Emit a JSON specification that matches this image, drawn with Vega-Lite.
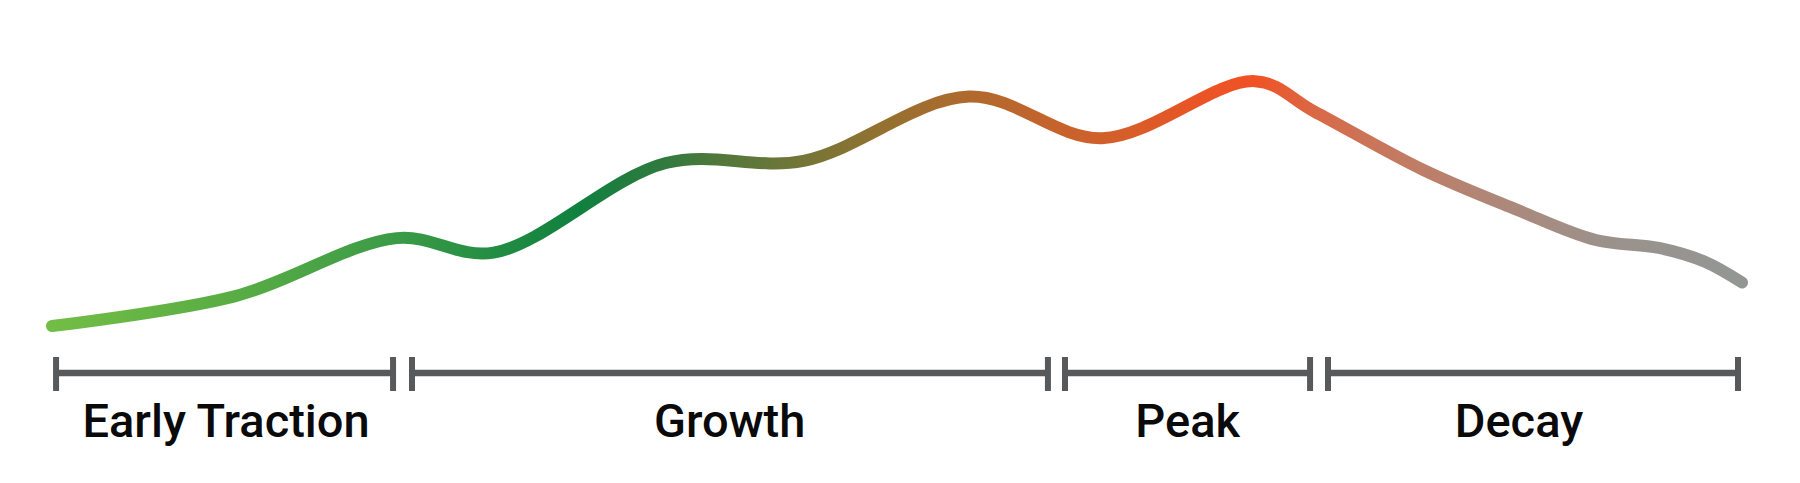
{
  "$schema": "https://vega.github.io/schema/vega-lite/v6.json",
  "width": 1800,
  "height": 483,
  "autosize": {"type": "fit", "contains": "padding"},
  "padding": 0,
  "background": "white",
  "config": {"view": {"stroke": null}},
  "datasets": {
    "curve": [
      {"t": 0, "value": 32.5},
      {"t": 10.85, "value": 38.7},
      {"t": 20.4, "value": 50.7},
      {"t": 26.13, "value": 47.7},
      {"t": 36.32, "value": 66.25},
      {"t": 44.47, "value": 66.7},
      {"t": 54.25, "value": 80.0},
      {"t": 62.13, "value": 71.4},
      {"t": 71.18, "value": 83.2},
      {"t": 74.7, "value": 76.9},
      {"t": 81.15, "value": 64.8},
      {"t": 86.59, "value": 56.7},
      {"t": 91.34, "value": 50.3},
      {"t": 95.08, "value": 48.66},
      {"t": 97.8, "value": 45.8},
      {"t": 100, "value": 41.5}
    ],
    "phases": [
      {"phase": "Early Traction", "start": 0.24, "end": 20.18, "mid": 10.3},
      {"phase": "Growth", "start": 21.3, "end": 58.93, "mid": 40.1},
      {"phase": "Peak", "start": 59.94, "end": 74.44, "mid": 67.2},
      {"phase": "Decay", "start": 75.5, "end": 99.76, "mid": 86.8}
    ]
  },
  "layer": [
    {
      "data": {"name": "curve"},
      "mark": {
        "type": "line",
        "interpolate": "catmull-rom",
        "strokeWidth": 12,
        "strokeCap": "round",
        "strokeJoin": "round",
        "color": {
          "gradient": "linear",
          "x1": 0, "y1": 0, "x2": 1, "y2": 0,
          "stops": [
            {"offset": 0, "color": "#72bd45"},
            {"offset": 0.111, "color": "#58ac44"},
            {"offset": 0.205, "color": "#3b9a47"},
            {"offset": 0.265, "color": "#218c42"},
            {"offset": 0.312, "color": "#10803f"},
            {"offset": 0.36, "color": "#2f7a3e"},
            {"offset": 0.395, "color": "#52773b"},
            {"offset": 0.443, "color": "#737637"},
            {"offset": 0.49, "color": "#937130"},
            {"offset": 0.542, "color": "#b0692d"},
            {"offset": 0.62, "color": "#d0602b"},
            {"offset": 0.679, "color": "#ea5425"},
            {"offset": 0.712, "color": "#f05224"},
            {"offset": 0.75, "color": "#d86a48"},
            {"offset": 0.798, "color": "#c27b62"},
            {"offset": 0.857, "color": "#ad887a"},
            {"offset": 0.916, "color": "#9c918b"},
            {"offset": 1, "color": "#929793"}
          ]
        }
      },
      "encoding": {
        "x": {"field": "t", "type": "quantitative", "scale": {"domain": [-3.077, 103.43], "nice": false, "zero": false}, "axis": null},
        "y": {"field": "value", "type": "quantitative", "scale": {"domain": [0, 100], "nice": false, "zero": false}, "axis": null}
      }
    },
    {
      "data": {"name": "phases"},
      "mark": {"type": "rule", "color": "#58595b", "strokeWidth": 6.5},
      "encoding": {
        "x": {"field": "start", "type": "quantitative"},
        "x2": {"field": "end"},
        "y": {"datum": 22.77, "type": "quantitative"}
      }
    },
    {
      "data": {"name": "phases"},
      "mark": {"type": "rule", "color": "#58595b", "strokeWidth": 6},
      "encoding": {
        "x": {"field": "start", "type": "quantitative"},
        "y": {"datum": 19.05, "type": "quantitative"},
        "y2": {"datum": 26.09}
      }
    },
    {
      "data": {"name": "phases"},
      "mark": {"type": "rule", "color": "#58595b", "strokeWidth": 6},
      "encoding": {
        "x": {"field": "end", "type": "quantitative"},
        "y": {"datum": 19.05, "type": "quantitative"},
        "y2": {"datum": 26.09}
      }
    },
    {
      "data": {"name": "phases"},
      "mark": {"type": "text", "font": "Roboto", "fontWeight": 500, "fontSize": 47, "align": "center", "baseline": "alphabetic", "color": "#0a0a0a"},
      "encoding": {
        "x": {"field": "mid", "type": "quantitative"},
        "y": {"datum": 9.5, "type": "quantitative"},
        "text": {"field": "phase"}
      }
    }
  ]
}
